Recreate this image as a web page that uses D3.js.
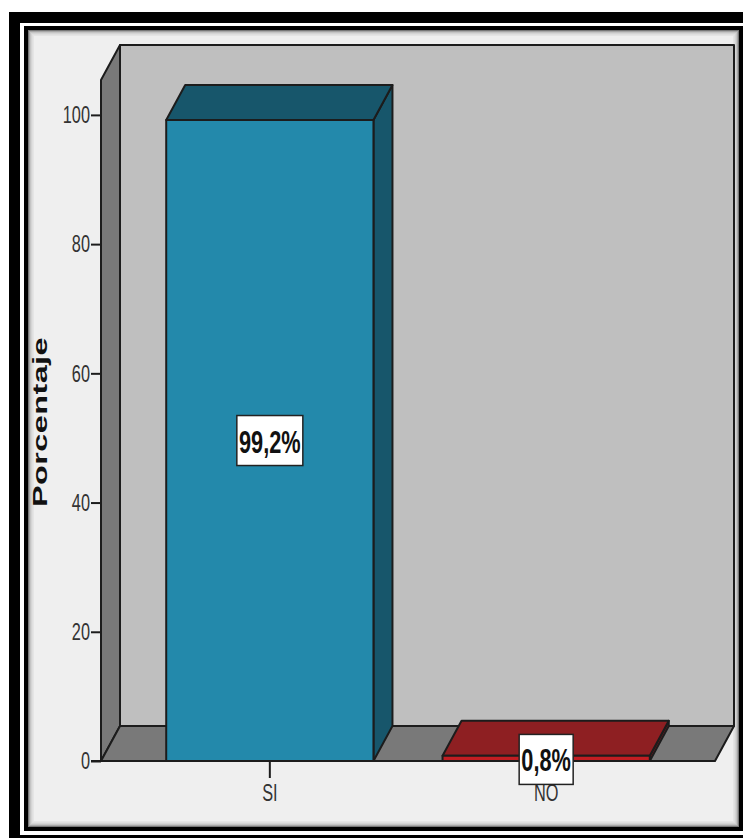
<!DOCTYPE html>
<html>
<head>
<meta charset="utf-8">
<script src="https://cdn.jsdelivr.net/npm/d3@7"></script>
<style>
  html, body { margin: 0; padding: 0; background: #fff; }
  svg { display: block; }
  text { font-family: "Liberation Sans", Arial, sans-serif; }
</style>
</head>
<body>
<div id="chart"></div>
<script>
(function() {
  var categories = ['SI', 'NO'];
  var percentages = [99.2, 0.8];
  var valueLabels = ['99,2%', '0,8%'];
  var yTicks = [0, 20, 40, 60, 80, 100];
  var frontColors = ['#2389ab', '#c21d22'];
  var topColors = ['#17566b', '#8e1f22'];
  var sideColors = ['#17566b', '#7c191c'];

  var width = 743, height = 838;
  var depthX = 19, depthY = -35;   // offset of the back wall from the front plane
  var squeeze = 0.68;              // condensed text, horizontal scale
  var line = '#1c1c1c';

  var svg = d3.select('#chart').append('svg')
    .attr('width', width)
    .attr('height', height);

  var y = d3.scaleLinear().domain([0, 105.4]).range([761, 80]);
  var x = d3.scaleBand().domain(categories).range([101, 715])
    .paddingInner(0.25).paddingOuter(0.236);

  // frame
  svg.append('rect').attr('x', 9).attr('y', 12).attr('width', 734).attr('height', 826).attr('fill', '#000');
  svg.append('rect').attr('x', 20).attr('y', 23).attr('width', 730).attr('height', 812).attr('fill', '#fff');
  svg.append('rect').attr('x', 24).attr('y', 26).attr('width', 719).attr('height', 805).attr('fill', '#000');
  svg.append('rect').attr('x', 28).attr('y', 30).attr('width', 711).attr('height', 797).attr('fill', '#efefef');

  // soft dark rim inside the panel
  d3.range(6).forEach(function(i) {
    svg.append('rect')
      .attr('x', 28.5 + i).attr('y', 30.5 + i)
      .attr('width', 710 - 2 * i).attr('height', 796 - 2 * i)
      .attr('fill', 'none')
      .attr('stroke', '#000')
      .attr('stroke-opacity', 0.5 * Math.pow(0.6, i));
  });

  function poly(points, fill, parent) {
    return (parent || svg).append('polygon')
      .attr('points', points.map(function(p) { return p.join(','); }).join(' '))
      .attr('fill', fill)
      .attr('stroke', line)
      .attr('stroke-width', 2)
      .attr('stroke-linejoin', 'round');
  }

  // walls and floor
  var left = x.range()[0], right = x.range()[1];
  var base = y(0), top = y.range()[1];
  poly([[left + depthX, top + depthY], [right + depthX, top + depthY], [right + depthX, base + depthY], [left + depthX, base + depthY]], '#bfbfbf');
  poly([[left, top], [left + depthX, top + depthY], [left + depthX, base + depthY], [left, base]], '#797979');
  poly([[left, base], [left + depthX, base + depthY], [right + depthX, base + depthY], [right, base]], '#797979');

  // bars
  var bars = svg.append('g').selectAll('g')
    .data(categories)
    .enter().append('g');

  bars.each(function(c, i) {
    var g = d3.select(this);
    var x0 = x(c), x1 = x(c) + x.bandwidth();
    var yv = y(percentages[i]);
    poly([[x1, yv], [x1 + depthX, yv + depthY], [x1 + depthX, base + depthY], [x1, base]], sideColors[i], g);
    poly([[x0, yv], [x0 + depthX, yv + depthY], [x1 + depthX, yv + depthY], [x1, yv]], topColors[i], g);
    poly([[x0, yv], [x1, yv], [x1, base], [x0, base]], frontColors[i], g);
  });

  // axes
  var yAxis = svg.append('g')
    .attr('transform', 'translate(' + left + ',0)')
    .call(d3.axisLeft(y).tickValues(yTicks).tickSize(10).tickPadding(2));
  yAxis.select('.domain').remove();
  yAxis.selectAll('line').attr('stroke', line).attr('stroke-width', 2);
  yAxis.selectAll('text')
    .attr('font-size', 24)
    .attr('fill', '#333')
    .attr('x', -11 / squeeze)
    .attr('transform', 'scale(' + squeeze + ',1)');

  var xAxis = svg.append('g')
    .attr('transform', 'translate(0,' + base + ')')
    .call(d3.axisBottom(x).tickSize(17).tickPadding(6));
  xAxis.select('.domain').remove();
  xAxis.selectAll('line').attr('stroke', line).attr('stroke-width', 2);
  xAxis.selectAll('text')
    .attr('font-size', 24)
    .attr('fill', '#333')
    .attr('transform', 'scale(' + squeeze + ',1)');

  svg.append('line')
    .attr('x1', left - 10).attr('x2', right)
    .attr('y1', base).attr('y2', base)
    .attr('stroke', line).attr('stroke-width', 2);

  // value labels sit at the middle of each bar's height
  var boxW = [66, 54], boxH = 50;
  categories.forEach(function(c, i) {
    var cx = x(c) + x.bandwidth() / 2;
    var cy = y(percentages[i] / 2) + (i === 1 ? 1 : 0);
    svg.append('rect')
      .attr('x', cx - boxW[i] / 2).attr('y', cy - boxH / 2)
      .attr('width', boxW[i]).attr('height', boxH)
      .attr('fill', '#fff')
      .attr('stroke', '#222').attr('stroke-width', 1.5);
    svg.append('text')
      .attr('transform', 'translate(' + cx + ',' + (cy + 12) + ') scale(' + squeeze + ',1)')
      .attr('text-anchor', 'middle')
      .attr('font-size', 32)
      .attr('font-weight', 'bold')
      .attr('fill', '#111')
      .text(valueLabels[i]);
  });

  // y axis title
  svg.append('text')
    .attr('transform', 'translate(47,422) rotate(-90) scale(1.54,1)')
    .attr('text-anchor', 'middle')
    .attr('font-size', 21)
    .attr('font-weight', 'bold')
    .attr('letter-spacing', 0.3)
    .attr('fill', '#111')
    .text('Porcentaje');
})();
</script>
</body>
</html>
